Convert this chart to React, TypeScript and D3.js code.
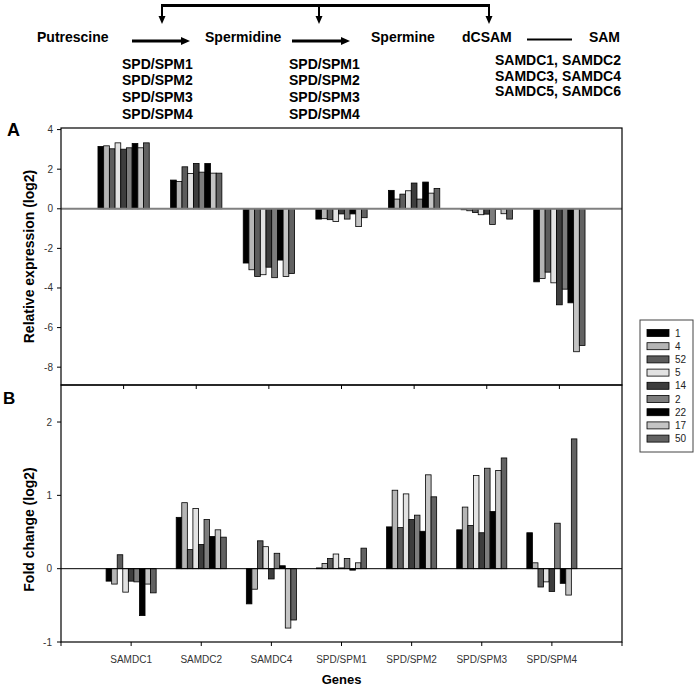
import React from "react";
import * as d3 from "d3";

const series = ["1", "4", "52", "5", "14", "2", "22", "17", "50"];
const seriesColors = ["#000000", "#b5b5b5", "#5c5c5c", "#e2e2e2", "#3d3d3d", "#7d7d7d", "#000000", "#c4c4c4", "#626262"];
const genes = ["SAMDC1", "SAMDC2", "SAMDC4", "SPD/SPM1", "SPD/SPM2", "SPD/SPM3", "SPD/SPM4"];

const valuesA = [
  [3.15, 3.18, 3.03, 3.33, 3.01, 3.08, 3.3, 3.08, 3.33],
  [1.45, 1.38, 2.12, 1.78, 2.29, 1.85, 2.29, 1.8, 1.8],
  [-2.74, -3.08, -3.42, -3.33, -2.95, -3.48, -2.59, -3.42, -3.27],
  [-0.52, -0.5, -0.55, -0.64, -0.26, -0.52, -0.26, -0.9, -0.45],
  [0.93, 0.49, 0.74, 0.91, 1.3, 0.49, 1.35, 0.79, 1.03],
  [-0.05, -0.1, -0.19, -0.3, -0.27, -0.79, -0.02, -0.25, -0.52],
  [-3.69, -3.52, -3.2, -3.74, -4.85, -4.06, -4.75, -7.22, -6.9],
];

const valuesB = [
  [-0.17, -0.21, 0.19, -0.32, -0.17, -0.18, -0.64, -0.21, -0.33],
  [0.7, 0.9, 0.26, 0.82, 0.33, 0.67, 0.44, 0.53, 0.43],
  [-0.48, -0.28, 0.38, 0.3, -0.14, 0.21, 0.04, -0.81, -0.7],
  [0.01, 0.07, 0.14, 0.2, 0.01, 0.14, -0.02, 0.08, 0.28],
  [0.57, 1.07, 0.56, 1.02, 0.67, 0.73, 0.51, 1.28, 0.98],
  [0.53, 0.84, 0.59, 1.27, 0.49, 1.37, 0.78, 1.34, 1.51],
  [0.49, 0.08, -0.25, -0.18, -0.31, 0.62, -0.2, -0.36, 1.77],
];

const ticksA = [4, 2, 0, -2, -4, -6, -8];
const ticksB = [2, 1, 0, -1];

const pathway = ["Putrescine", "Spermidine", "Spermine", "dCSAM", "SAM"];
const enzymesSPD = ["SPD/SPM1", "SPD/SPM2", "SPD/SPM3", "SPD/SPM4"];
const enzymesSAMDC = ["SAMDC1, SAMDC2", "SAMDC3, SAMDC4", "SAMDC5, SAMDC6"];

const FONT = "'Liberation Sans', Arial, Helvetica, sans-serif";

const L = 61;
const R = 622;
const topA = 128;
const botA = 385;
const topB = 385;
const botB = 642;

export default function App() {
  const xA = d3.scaleLinear().domain([-0.862, genes.length - 1 + 0.862]).range([L, R]);
  const yA = d3.scaleLinear().domain([-8.9, 4.08]).range([botA, topA]);
  const stepA = xA(1) - xA(0);
  const innerA = d3.scaleBand().domain(series).range([-stepA * 0.353, stepA * 0.353]);

  const xB = d3.scaleLinear().domain([0, genes.length + 1]).range([L, R]);
  const yB = d3.scaleLinear().domain([-1, 2.505]).range([botB, topB]);
  const stepB = xB(1) - xB(0);
  const innerB = d3.scaleBand().domain(series).range([-stepB * 0.357, stepB * 0.357]);

  const textStyle = { fontFamily: FONT };

  const arrowHead = (x: number, y: number, dir: "right" | "down") =>
    dir === "right"
      ? `M${x},${y} L${x - 9},${y - 4} L${x - 9},${y + 4} Z`
      : `M${x},${y} L${x - 3.5},${y - 8} L${x + 3.5},${y - 8} Z`;

  return (
    <svg
      width={697}
      height={688}
      style={{ position: "absolute", left: 0, top: 0, background: "#fff" }}
      fontFamily={FONT}
    >
      <rect x={0} y={0} width={697} height={688} fill="#fff" />
      {/* Pathway diagram */}
      <g>
        <path d="M162,5.5 L490,5.5" stroke="#000" strokeWidth={3} fill="none" />
        {[162, 319, 489].map((x, i) => (
          <g key={i}>
            <line x1={x} y1={4} x2={x} y2={16} stroke="#000" strokeWidth={2} />
            <path d={arrowHead(x, 24, "down")} fill="#000" />
          </g>
        ))}
        <line x1={132} y1={41} x2={182} y2={41} stroke="#000" strokeWidth={3} />
        <path d={arrowHead(190, 41, "right")} fill="#000" />
        <line x1={292} y1={41} x2={342} y2={41} stroke="#000" strokeWidth={3} />
        <path d={arrowHead(350, 41, "right")} fill="#000" />
        <line x1={527} y1={39.5} x2={572} y2={39.5} stroke="#000" strokeWidth={2} />
        {pathway.map((t, i) => (
          <text
            key={t}
            x={[37, 205, 371, 462, 620][i]}
            y={42}
            fontSize={14}
            fontWeight="bold"
            textAnchor={i === 4 ? "end" : "start"}
            style={textStyle}
          >
            {t}
          </text>
        ))}
        {enzymesSPD.map((t, i) => (
          <text key={"a" + t} x={122} y={68.5 + i * 16.7} fontSize={14} fontWeight="bold" style={textStyle}>
            {t}
          </text>
        ))}
        {enzymesSPD.map((t, i) => (
          <text key={"b" + t} x={289} y={68.5 + i * 16.7} fontSize={14} fontWeight="bold" style={textStyle}>
            {t}
          </text>
        ))}
        {enzymesSAMDC.map((t, i) => (
          <text key={t} x={495} y={65 + i * 15.5} fontSize={14} fontWeight="bold" style={textStyle}>
            {t}
          </text>
        ))}
      </g>

      {/* Panel A */}
      <g>
        <text x={7} y={136} fontSize={18} fontWeight="bold" style={textStyle}>A</text>
        {genes.map((g, gi) =>
          valuesA[gi].map((v, si) => {
            const x = xA(gi) + (innerA(series[si]) as number);
            const y0 = yA(0);
            const y1 = yA(v);
            return (
              <rect
                key={g + si}
                x={x}
                y={Math.min(y0, y1)}
                width={innerA.bandwidth()}
                height={Math.abs(y1 - y0)}
                fill={seriesColors[si]}
                stroke="#000"
                strokeWidth={0.8}
              />
            );
          })
        )}
        <line x1={L} x2={R} y1={yA(0)} y2={yA(0)} stroke="#808080" strokeWidth={2} />
        <rect x={L} y={topA} width={R - L} height={botA - topA} fill="none" stroke="#000" strokeWidth={1.2} />
        {ticksA.map((t) => (
          <g key={t}>
            <line x1={L - 4} x2={L} y1={yA(t)} y2={yA(t)} stroke="#000" />
            <text x={53} y={yA(t) + 3.5} fontSize={10} textAnchor="end" fill="#333" style={textStyle}>
              {t}
            </text>
          </g>
        ))}
        {genes.map((g, gi) => (
          <line key={g} x1={xA(gi)} x2={xA(gi)} y1={botA} y2={botA + 4} stroke="#000" />
        ))}
        <text
          transform={`translate(34,${(topA + botA) / 2}) rotate(-90)`}
          fontSize={14}
          fontWeight="bold"
          textAnchor="middle"
          style={textStyle}
        >
          Relative expression (log2)
        </text>
      </g>

      {/* Panel B */}
      <g>
        <text x={3} y={404} fontSize={17} fontWeight="bold" style={textStyle}>B</text>
        {genes.map((g, gi) =>
          valuesB[gi].map((v, si) => {
            const x = xB(gi + 1) + (innerB(series[si]) as number);
            const y0 = yB(0);
            const y1 = yB(v);
            return (
              <rect
                key={g + si}
                x={x}
                y={Math.min(y0, y1)}
                width={innerB.bandwidth()}
                height={Math.abs(y1 - y0)}
                fill={seriesColors[si]}
                stroke="#000"
                strokeWidth={0.8}
              />
            );
          })
        )}
        <line x1={L} x2={R} y1={yB(0)} y2={yB(0)} stroke="#000" strokeWidth={1} />
        <rect x={L} y={topB} width={R - L} height={botB - topB} fill="none" stroke="#000" strokeWidth={1.2} />
        {ticksB.map((t) => (
          <g key={t}>
            <line x1={L - 4} x2={L} y1={yB(t)} y2={yB(t)} stroke="#000" />
            <text x={52} y={yB(t) + 3.5} fontSize={10} textAnchor="end" fill="#333" style={textStyle}>
              {t}
            </text>
          </g>
        ))}
        <line x1={L} x2={L} y1={botB} y2={botB + 4} stroke="#000" />
        <line x1={R} x2={R} y1={botB} y2={botB + 4} stroke="#000" />
        {genes.map((g, gi) => (
          <g key={g}>
            <line x1={xB(gi + 1)} x2={xB(gi + 1)} y1={botB} y2={botB + 4} stroke="#000" />
            <text x={xB(gi + 1)} y={663} fontSize={10} textAnchor="middle" fill="#333" style={textStyle}>
              {g}
            </text>
          </g>
        ))}
        <text x={(L + R) / 2} y={684} fontSize={13} fontWeight="bold" textAnchor="middle" style={textStyle}>
          Genes
        </text>
        <text
          transform={`translate(34,${(topB + botB) / 2 + 16}) rotate(-90)`}
          fontSize={14}
          fontWeight="bold"
          textAnchor="middle"
          style={textStyle}
        >
          Fold change (log2)
        </text>
      </g>

      {/* Legend */}
      <g>
        <rect x={640} y={320} width={53} height={132} fill="#fff" stroke="#444" strokeWidth={1} />
        {series.map((s, i) => (
          <g key={s + i}>
            <rect x={647} y={329.5 + i * 13.2} width={22} height={7} fill={seriesColors[i]} stroke="#000" strokeWidth={0.8} />
            <text x={675} y={336.5 + i * 13.2} fontSize={10} fill="#222" style={textStyle}>
              {s}
            </text>
          </g>
        ))}
      </g>
    </svg>
  );
}
